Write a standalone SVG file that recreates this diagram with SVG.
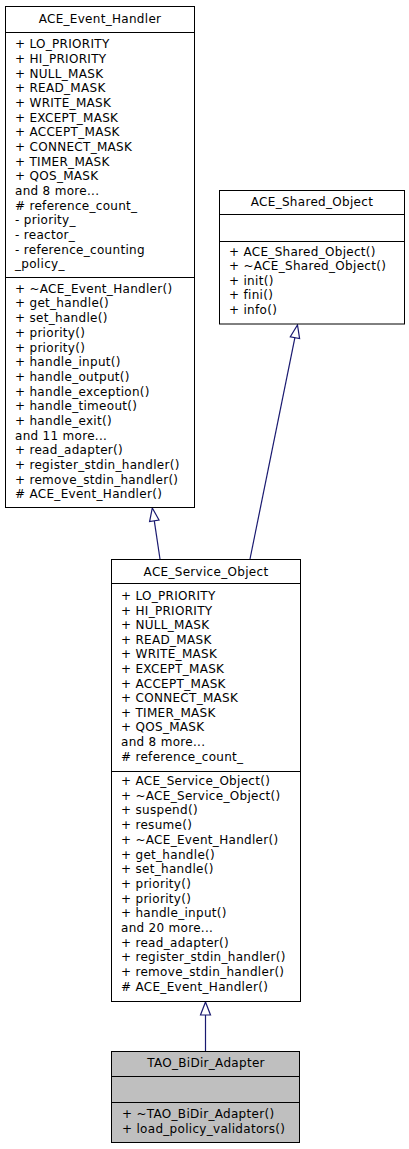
<svg xmlns="http://www.w3.org/2000/svg" width="409" height="1149" viewBox="0 0 409 1149">
<style>
.box{fill:#ffffff;stroke:#000000;stroke-width:1}
.cur{fill:#bfbfbf;stroke:#000000;stroke-width:1}
.sep{stroke:#000000;stroke-width:1}
text{font-family:"DejaVu Sans","Liberation Sans",sans-serif;font-size:12px;letter-spacing:0.3px;fill:#000000}
.t{text-anchor:middle}
.edge{stroke:#191970;stroke-width:1.2;fill:none}
.head{fill:#ffffff;stroke:#191970;stroke-width:1.2}
</style>
<rect width="409" height="1149" fill="#ffffff"/>
<g id="connectors">
<line class="edge" x1="160" y1="559" x2="154.3" y2="520.8"/>
<polygon class="head" points="152.3,508 159,520 149.6,521.6"/>
<line class="edge" x1="250" y1="559" x2="294.9" y2="337.7"/>
<polygon class="head" points="297.5,325 299.6,338.6 290.3,336.8"/>
<line class="edge" x1="205.5" y1="1051" x2="205.5" y2="1015"/>
<polygon class="head" points="205.5,1002 210.5,1015 200.5,1015"/>
</g>
<g id="ACE_Event_Handler">
<rect class="box" x="5.5" y="6.5" width="189" height="501"/>
<line class="sep" x1="5.5" y1="32.5" x2="194.5" y2="32.5"/>
<line class="sep" x1="5.5" y1="277.5" x2="194.5" y2="277.5"/>
<text class="t" x="100" y="23">ACE_Event_Handler</text>
<text x="15" y="48.3">+ LO_PRIORITY</text>
<text x="15" y="63">+ HI_PRIORITY</text>
<text x="15" y="77.6">+ NULL_MASK</text>
<text x="15" y="92.3">+ READ_MASK</text>
<text x="15" y="107">+ WRITE_MASK</text>
<text x="15" y="121.7">+ EXCEPT_MASK</text>
<text x="15" y="136.3">+ ACCEPT_MASK</text>
<text x="15" y="151">+ CONNECT_MASK</text>
<text x="15" y="165.7">+ TIMER_MASK</text>
<text x="15" y="180.3">+ QOS_MASK</text>
<text x="15" y="195">and 8 more...</text>
<text x="15" y="209.7"># reference_count_</text>
<text x="15" y="224.3">- priority_</text>
<text x="15" y="239">- reactor_</text>
<text x="15" y="253.7">- reference_counting</text>
<text x="15" y="268.4">_policy_</text>
<text x="15" y="292.7">+ ~ACE_Event_Handler()</text>
<text x="15" y="307.4">+ get_handle()</text>
<text x="15" y="322.1">+ set_handle()</text>
<text x="15" y="336.8">+ priority()</text>
<text x="15" y="351.5">+ priority()</text>
<text x="15" y="366.2">+ handle_input()</text>
<text x="15" y="380.8">+ handle_output()</text>
<text x="15" y="395.5">+ handle_exception()</text>
<text x="15" y="410.2">+ handle_timeout()</text>
<text x="15" y="424.9">+ handle_exit()</text>
<text x="15" y="439.6">and 11 more...</text>
<text x="15" y="454.3">+ read_adapter()</text>
<text x="15" y="469">+ register_stdin_handler()</text>
<text x="15" y="483.7">+ remove_stdin_handler()</text>
<text x="15" y="498.4"># ACE_Event_Handler()</text>
</g>
<g id="ACE_Shared_Object">
<rect class="box" x="219.5" y="190.5" width="185" height="133.5"/>
<line class="sep" x1="219.5" y1="214.5" x2="404.5" y2="214.5"/>
<line class="sep" x1="219.5" y1="241.5" x2="404.5" y2="241.5"/>
<text class="t" x="312" y="206">ACE_Shared_Object</text>
<text x="229" y="255.5">+ ACE_Shared_Object()</text>
<text x="229" y="270">+ ~ACE_Shared_Object()</text>
<text x="229" y="284.5">+ init()</text>
<text x="229" y="299">+ fini()</text>
<text x="229" y="313.5">+ info()</text>
</g>
<g id="ACE_Service_Object">
<rect class="box" x="111.5" y="559.5" width="189" height="442"/>
<line class="sep" x1="111.5" y1="583.5" x2="300.5" y2="583.5"/>
<line class="sep" x1="111.5" y1="771.5" x2="300.5" y2="771.5"/>
<text class="t" x="206" y="575.5">ACE_Service_Object</text>
<text x="121" y="600">+ LO_PRIORITY</text>
<text x="121" y="614.6">+ HI_PRIORITY</text>
<text x="121" y="629.2">+ NULL_MASK</text>
<text x="121" y="643.8">+ READ_MASK</text>
<text x="121" y="658.4">+ WRITE_MASK</text>
<text x="121" y="673">+ EXCEPT_MASK</text>
<text x="121" y="687.6">+ ACCEPT_MASK</text>
<text x="121" y="702.2">+ CONNECT_MASK</text>
<text x="121" y="716.8">+ TIMER_MASK</text>
<text x="121" y="731.4">+ QOS_MASK</text>
<text x="121" y="746">and 8 more...</text>
<text x="121" y="760.6"># reference_count_</text>
<text x="121" y="785">+ ACE_Service_Object()</text>
<text x="121" y="799.7">+ ~ACE_Service_Object()</text>
<text x="121" y="814.4">+ suspend()</text>
<text x="121" y="829.1">+ resume()</text>
<text x="121" y="843.8">+ ~ACE_Event_Handler()</text>
<text x="121" y="858.5">+ get_handle()</text>
<text x="121" y="873.1">+ set_handle()</text>
<text x="121" y="887.8">+ priority()</text>
<text x="121" y="902.5">+ priority()</text>
<text x="121" y="917.2">+ handle_input()</text>
<text x="121" y="931.9">and 20 more...</text>
<text x="121" y="946.6">+ read_adapter()</text>
<text x="121" y="961.3">+ register_stdin_handler()</text>
<text x="121" y="976">+ remove_stdin_handler()</text>
<text x="121" y="990.7"># ACE_Event_Handler()</text>
</g>
<g id="TAO_BiDir_Adapter">
<rect class="cur" x="111.5" y="1051.5" width="188" height="91"/>
<line class="sep" x1="111.5" y1="1076.5" x2="299.5" y2="1076.5"/>
<line class="sep" x1="111.5" y1="1102.5" x2="299.5" y2="1102.5"/>
<text class="t" x="206" y="1067">TAO_BiDir_Adapter</text>
<text x="122" y="1118.3">+ ~TAO_BiDir_Adapter()</text>
<text x="122" y="1133">+ load_policy_validators()</text>
</g>
</svg>
